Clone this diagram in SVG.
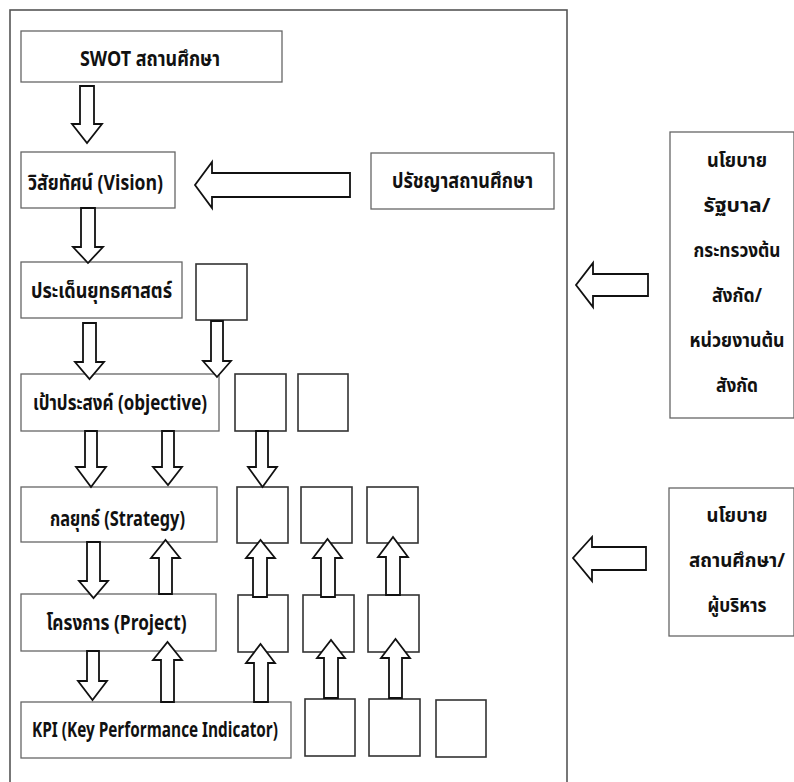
<svg xmlns="http://www.w3.org/2000/svg" width="794" height="782" viewBox="0 0 794 782">
<style>
.frame{fill:none;stroke:#555;stroke-width:1.6}
.box{fill:#fff;stroke:#666;stroke-width:1.3}
.sq{fill:#fff;stroke:#333;stroke-width:1.6}
.arr{fill:#fff;stroke:#111;stroke-width:1.8;stroke-linejoin:miter}
.t{font-family:"Noto Sans Thai","Noto Sans","Liberation Sans",sans-serif;font-weight:bold;font-size:21px;fill:#111;text-anchor:middle}
.r{font-size:19px}
</style>
<rect width="794" height="782" fill="#fff"/>
<rect class="frame" x="10" y="10" width="557" height="790"/>

<g id="swot"><rect class="box" x="21" y="31" width="261" height="51"/><text class="t" x="150" y="66" textLength="140" lengthAdjust="spacingAndGlyphs">SWOT สถานศึกษา</text></g>
<g id="vision"><rect class="box" x="21" y="152" width="154" height="56"/><text class="t" x="95.5" y="190" textLength="135" lengthAdjust="spacingAndGlyphs">วิสัยทัศน์ (Vision)</text></g>
<g id="philosophy"><rect class="box" x="371" y="153" width="183" height="56"/><text class="t" x="462.5" y="188" textLength="141" lengthAdjust="spacingAndGlyphs">ปรัชญาสถานศึกษา</text></g>
<g id="issues"><rect class="box" x="21" y="262" width="161" height="56"/><text class="t" x="101.5" y="298" textLength="141" lengthAdjust="spacingAndGlyphs">ประเด็นยุทธศาสตร์</text></g>
<g id="sq-issues"><rect class="sq" x="196" y="264" width="51" height="56"/></g>
<g id="objective"><rect class="box" x="21" y="374" width="198" height="57"/><text class="t" x="120" y="410" textLength="174" lengthAdjust="spacingAndGlyphs">เป้าประสงค์ (objective)</text></g>
<g id="sq-obj-1"><rect class="sq" x="235" y="374" width="51" height="57"/></g>
<g id="sq-obj-2"><rect class="sq" x="298" y="374" width="50" height="57"/></g>
<g id="strategy"><rect class="box" x="21" y="487" width="196" height="55"/><text class="t" x="117.5" y="526" textLength="135" lengthAdjust="spacingAndGlyphs">กลยุทธ์ (Strategy)</text></g>
<g id="sq-str-1"><rect class="sq" x="237" y="487" width="51" height="56"/></g>
<g id="sq-str-2"><rect class="sq" x="301" y="487" width="51" height="56"/></g>
<g id="sq-str-3"><rect class="sq" x="367" y="487" width="51" height="56"/></g>
<g id="project"><rect class="box" x="21" y="594" width="195" height="57"/><text class="t" x="116.5" y="630" textLength="140" lengthAdjust="spacingAndGlyphs">โครงการ (Project)</text></g>
<g id="sq-prj-1"><rect class="sq" x="238" y="595" width="50" height="57"/></g>
<g id="sq-prj-2"><rect class="sq" x="303" y="595" width="51" height="57"/></g>
<g id="sq-prj-3"><rect class="sq" x="368" y="595" width="51" height="57"/></g>
<g id="kpi"><rect class="box" x="21" y="702" width="270" height="56"/><text class="t" x="155" y="737" textLength="246" lengthAdjust="spacingAndGlyphs">KPI (Key Performance Indicator)</text></g>
<g id="sq-kpi-1"><rect class="sq" x="305" y="699" width="50" height="57"/></g>
<g id="sq-kpi-2"><rect class="sq" x="369" y="699" width="51" height="57"/></g>
<g id="sq-kpi-3"><rect class="sq" x="436" y="700" width="50" height="57"/></g>

<g id="policy-gov"><rect class="box" x="670" y="132" width="124" height="286"/>
<text class="t r" x="737" y="167" textLength="60" lengthAdjust="spacingAndGlyphs">นโยบาย</text>
<text class="t r" x="737" y="212" textLength="67" lengthAdjust="spacingAndGlyphs">รัฐบาล/</text>
<text class="t r" x="737" y="257" textLength="87" lengthAdjust="spacingAndGlyphs">กระทรวงต้น</text>
<text class="t r" x="737" y="302" textLength="50" lengthAdjust="spacingAndGlyphs">สังกัด/</text>
<text class="t r" x="737" y="347" textLength="95" lengthAdjust="spacingAndGlyphs">หน่วยงานต้น</text>
<text class="t r" x="737" y="392" textLength="42" lengthAdjust="spacingAndGlyphs">สังกัด</text>
</g>
<g id="policy-school"><rect class="box" x="669" y="488" width="125" height="148"/>
<text class="t r" x="737" y="522" textLength="61" lengthAdjust="spacingAndGlyphs">นโยบาย</text>
<text class="t r" x="737" y="567" textLength="96" lengthAdjust="spacingAndGlyphs">สถานศึกษา/</text>
<text class="t r" x="737" y="612" textLength="59" lengthAdjust="spacingAndGlyphs">ผู้บริหาร</text>
</g>

<g id="connectors">
<path class="arr" d="M80,86 L94,86 L94,124 L102,124 L87,143 L72,124 L80,124 Z"/>
<path class="arr" d="M81,208 L95,208 L95,247 L103,247 L88,263 L73,247 L81,247 Z"/>
<path class="arr" d="M83,323 L96,323 L96,362 L104,362 L89.5,379 L75,362 L83,362 Z"/>
<path class="arr" d="M211,321 L223,321 L223,361 L231,361 L217,377 L203,361 L211,361 Z"/>
<path class="arr" d="M85,431 L97,431 L97,467 L106,467 L91,487 L76,467 L85,467 Z"/>
<path class="arr" d="M162,431 L174,431 L174,467 L182,467 L168,485 L153,467 L162,467 Z"/>
<path class="arr" d="M256,431 L268,431 L268,467 L277,467 L262.5,487 L248,467 L256,467 Z"/>
<path class="arr" d="M87,542 L100,542 L100,581 L108,581 L93.5,598 L79,581 L87,581 Z"/>
<path class="arr" d="M87,651 L99,651 L99,681 L107,681 L92.5,700 L78,681 L87,681 Z"/>
<path class="arr" d="M159,594 L172,594 L172,558 L180,558 L165.5,540 L151,558 L159,558 Z"/>
<path class="arr" d="M161,702 L174,702 L174,660 L182,660 L167.5,642 L153,660 L161,660 Z"/>
<path class="arr" d="M253,597 L267,597 L267,558 L275,558 L260.5,540 L246,558 L253,558 Z"/>
<path class="arr" d="M321,597 L335,597 L335,558 L342,558 L327.5,539 L313,558 L321,558 Z"/>
<path class="arr" d="M386,595 L400,595 L400,557 L408,557 L393,537 L378,557 L386,557 Z"/>
<path class="arr" d="M254,702 L268,702 L268,663 L275,663 L260.5,644 L246,663 L254,663 Z"/>
<path class="arr" d="M324,698 L338,698 L338,658 L345,658 L331,640 L317,658 L324,658 Z"/>
<path class="arr" d="M389,698 L402,698 L402,658 L410,658 L395.5,639 L381,658 L389,658 Z"/>
<path class="arr" d="M350,173 L350,197 L212,197 L212,208 L195,185 L212,162 L212,173 Z"/>
<path class="arr" d="M648,274 L648,296 L593,296 L593,307 L576,285 L593,263 L593,274 Z"/>
<path class="arr" d="M646,547 L646,570 L592,570 L592,581 L573,558 L592,537 L592,547 Z"/>
</g>
</svg>
